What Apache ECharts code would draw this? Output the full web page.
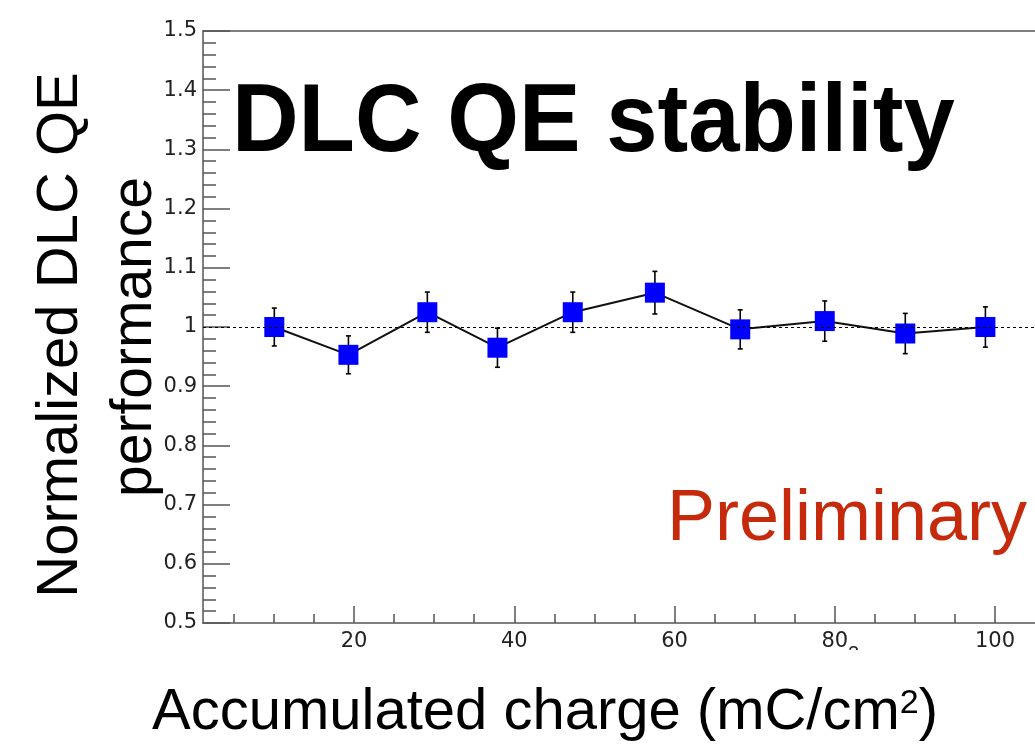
<!DOCTYPE html>
<html>
<head>
<meta charset="utf-8">
<title>DLC QE stability</title>
<script src="https://cdn.jsdelivr.net/npm/echarts@6/dist/echarts.min.js"></script>
<style>
  html, body { margin: 0; padding: 0; background: #ffffff; }
  #chart { width: 1035px; height: 744px; }
</style>
</head>
<body>
<div id="chart"></div>
<script>
// Accumulated charge (mC/cm2) at each measurement
const charge = [10.05, 19.3, 29.15, 37.9, 47.3, 57.55, 68.2, 78.75, 88.8, 98.8];
// Normalized DLC QE performance and its uncertainty
const qe = [1.000, 0.953, 1.025, 0.965, 1.025, 1.058, 0.996, 1.010, 0.989, 1.000];
const qeErr = [0.032, 0.032, 0.034, 0.033, 0.034, 0.036, 0.033, 0.034, 0.034, 0.034];
// Axis tick positions
const xMajorTicks = [20, 40, 60, 80, 100];
const xMinorTicks = [5, 10, 15, 25, 30, 35, 45, 50, 55, 65, 70, 75, 85, 90, 95];
const referenceLevel = 1;

const FONT = 'Liberation Sans, Arial, Helvetica, sans-serif';
const TICK_FONT = 'DejaVu Sans, Liberation Sans, sans-serif';
const AXIS_COLOR = '#555555';
const LABEL_COLOR = '#222222';
const X_MIN = 1.15;
const X_MAX = 104.99;

const points = charge.map((c, i) => [c, qe[i]]);
const errData = charge.map((c, i) => [c, qe[i], qeErr[i]]);

function renderErrorBar(params, api) {
  const x = api.value(0);
  const y = api.value(1);
  const e = api.value(2);
  const top = api.coord([x, y + e]);
  const bot = api.coord([x, y - e]);
  const cap = 2.5;
  const style = { stroke: '#000000', lineWidth: 1.6 };
  return {
    type: 'group',
    children: [
      { type: 'line', shape: { x1: top[0], y1: top[1], x2: bot[0], y2: bot[1] }, style },
      { type: 'line', shape: { x1: top[0] - cap, y1: top[1], x2: top[0] + cap, y2: top[1] }, style },
      { type: 'line', shape: { x1: bot[0] - cap, y1: bot[1], x2: bot[0] + cap, y2: bot[1] }, style }
    ]
  };
}

const chart = echarts.init(document.getElementById('chart'), null, { renderer: 'canvas' });

chart.setOption({
  animation: false,
  backgroundColor: '#ffffff',
  grid: { left: 203, top: 31, right: 0, bottom: 121, containLabel: false },
  xAxis: [
    {
      type: 'value', min: X_MIN, max: X_MAX, position: 'bottom',
      axisLine: { show: true, lineStyle: { color: AXIS_COLOR, width: 1.5 } },
      axisTick: { show: true, inside: true, length: 17, customValues: xMajorTicks,
                  lineStyle: { color: AXIS_COLOR, width: 1.5 } },
      axisLabel: { show: true, customValues: xMajorTicks, fontSize: 21, margin: 8,
                   color: LABEL_COLOR, fontFamily: TICK_FONT },
      splitLine: { show: false }
    },
    {
      type: 'value', min: X_MIN, max: X_MAX, position: 'bottom',
      axisLine: { show: false },
      axisTick: { show: true, inside: true, length: 9, customValues: xMinorTicks,
                  lineStyle: { color: AXIS_COLOR, width: 1.5 } },
      axisLabel: { show: false },
      splitLine: { show: false }
    },
    {
      type: 'value', min: X_MIN, max: X_MAX, position: 'top',
      axisLine: { show: true, lineStyle: { color: AXIS_COLOR, width: 1.5 } },
      axisTick: { show: false },
      axisLabel: { show: false },
      splitLine: { show: false }
    }
  ],
  yAxis: {
    type: 'value', min: 0.5, max: 1.5, interval: 0.1,
    axisLine: { show: true, lineStyle: { color: AXIS_COLOR, width: 1.5 } },
    axisTick: { show: true, inside: true, length: 27, lineStyle: { color: AXIS_COLOR, width: 1.5 } },
    minorTick: { show: true, splitNumber: 5, length: 13, lineStyle: { color: AXIS_COLOR, width: 1.5 } },
    axisLabel: { fontSize: 21, margin: 6, color: LABEL_COLOR, fontFamily: TICK_FONT,
                 formatter: v => String(Math.round(v * 10) / 10) },
    splitLine: { show: false },
    minorSplitLine: { show: false }
  },
  series: [
    {
      type: 'custom',
      name: 'uncertainty',
      renderItem: renderErrorBar,
      data: errData,
      encode: { x: 0, y: 1 },
      z: 1,
      markLine: {
        silent: true,
        symbol: ['none', 'none'],
        label: { show: false },
        lineStyle: { color: '#000000', width: 1, type: [3, 3] },
        data: [{ yAxis: referenceLevel }]
      }
    },
    {
      type: 'line',
      name: 'Normalized DLC QE',
      data: points,
      symbol: 'rect',
      symbolSize: 20,
      showAllSymbol: true,
      itemStyle: { color: '#0000ff' },
      lineStyle: { color: '#111111', width: 2 },
      z: 3
    }
  ],
  graphic: [
    {
      type: 'text', x: 232, y: 125, scaleX: 0.961, z: 10,
      style: { text: 'DLC QE stability', fontFamily: FONT, fontWeight: 'bold', fontSize: 96,
               fill: '#000000', textAlign: 'left', textVerticalAlign: 'middle' }
    },
    {
      type: 'text', x: 61, y: 335, rotation: Math.PI / 2, z: 10,
      style: { text: 'Normalized DLC QE', fontFamily: FONT, fontSize: 58, fill: '#000000',
               textAlign: 'center', textVerticalAlign: 'middle' }
    },
    {
      type: 'text', x: 135, y: 337, rotation: Math.PI / 2, z: 10,
      style: { text: 'performance', fontFamily: FONT, fontSize: 57, fill: '#000000',
               textAlign: 'center', textVerticalAlign: 'middle' }
    },
    {
      type: 'text', x: 545, y: 713, z: 10,
      style: {
        text: '{m|Accumulated charge (mC/cm}{s|2}{m|)}',
        fontFamily: FONT, fill: '#000000', textAlign: 'center', textVerticalAlign: 'middle',
        rich: {
          m: { fontFamily: FONT, fontSize: 58, lineHeight: 64, fill: '#000000' },
          s: { fontFamily: FONT, fontSize: 34, lineHeight: 34, fill: '#000000', verticalAlign: 'top', padding: [6, 0, 0, 0] }
        }
      }
    },
    {
      type: 'text', x: 667, y: 520, z: 10,
      style: { text: 'Preliminary', fontFamily: FONT, fontSize: 72, fill: '#c62a0c',
               textAlign: 'left', textVerticalAlign: 'middle' }
    },
    {
      type: 'text', x: 848, y: 644, z: 10,
      style: { text: '2', fontFamily: FONT, fontSize: 20, fill: '#222222',
               textAlign: 'left', textVerticalAlign: 'top' }
    },
    {
      type: 'rect', z: 11,
      shape: { x: 840, y: 650, width: 30, height: 25 },
      style: { fill: '#ffffff' }
    }
  ]
});
</script>
</body>
</html>
